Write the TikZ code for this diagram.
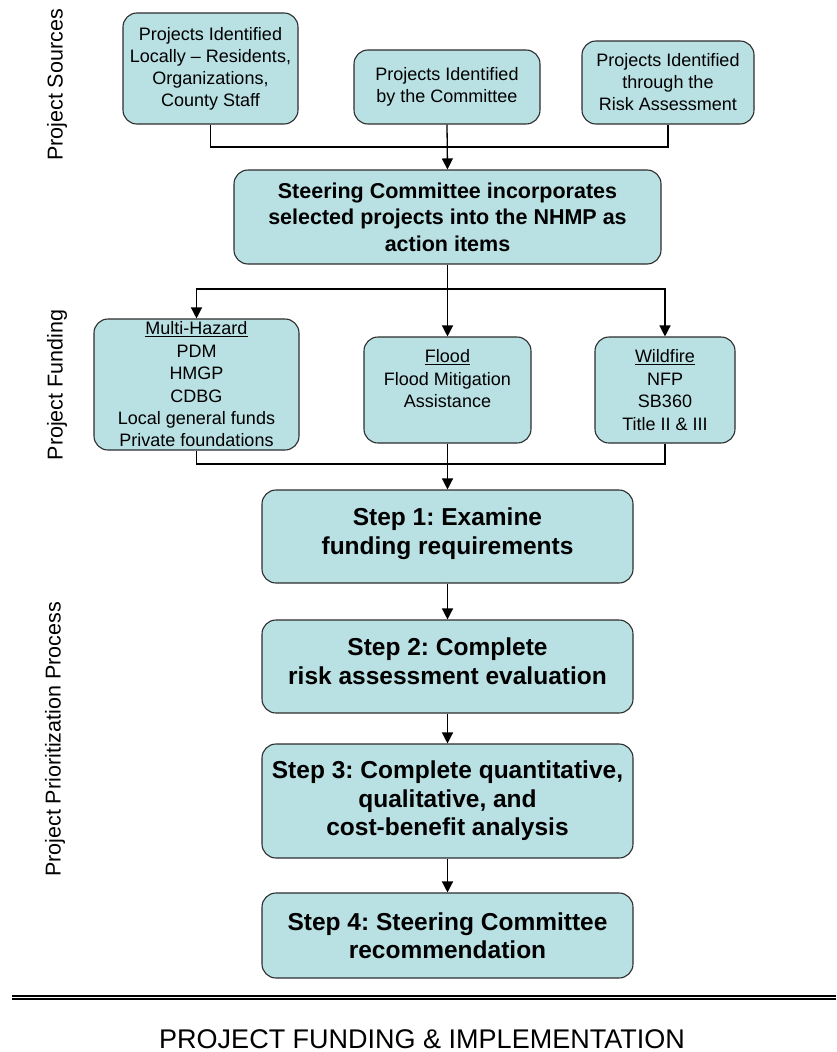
\documentclass[tikz,border=0pt]{standalone}
\usepackage{fontspec}
\setmainfont{Liberation Sans}
\usetikzlibrary{arrows.meta,positioning}
\definecolor{boxfill}{RGB}{185,224,227}
\definecolor{boxline}{RGB}{45,45,45}
\frenchspacing
\tikzset{
  box/.style={draw=boxline, line width=1.1pt, fill=boxfill, rounded corners=14pt, align=center, inner sep=0pt},
  srcbox/.style={box, font=\fontsize{18}{22}\selectfont},
  fundbox/.style={box, font=\fontsize{18}{22.4}\selectfont},
  cmtbox/.style={box, font=\fontsize{21.5}{26.5}\selectfont\bfseries},
  stepbox/.style={box, minimum width=371pt, font=\fontsize{24.5}{28.5}\selectfont\bfseries},
  sidelabel/.style={rotate=90, font=\fontsize{21.5}{26}\selectfont},
  link/.style={line width=1.3pt},
  arr/.style={link, -{Triangle[width=11pt,length=11pt]}},
}

\begin{document}
\begin{tikzpicture}[x=1pt, y=-1pt]
		%%%%% START %%%%%
		\useasboundingbox (0,0) rectangle (836,1052);
		
		% side labels
		\node[sidelabel] (lblSrc) at (57,85) {Project Sources};
		\node[sidelabel] (lblFund) at (57,385) {Project Funding};
		\node[sidelabel] (lblProc) at (55,739.5) {Project Prioritization Process};
		
		% project sources
		\node[srcbox, minimum width=175pt, minimum height=111pt] (srcLocal) at (210.5,68.5) {Projects Identified\\Locally -- Residents,\\Organizations,\\County Staff};
		\node[srcbox, minimum width=186pt, minimum height=74pt] (srcCmte) at (447,87) {Projects Identified\\by the Committee};
		\node[srcbox, minimum width=172pt, minimum height=83pt] (srcRisk) at (668,82.5) {Projects Identified\\through the\\Risk Assessment};
		
		\node[cmtbox, minimum width=427pt, minimum height=94pt] (steer) at (447.5,217) {Steering Committee incorporates\\selected projects into the NHMP as\\action items};
		
		\coordinate (jSrc) at (447,147);
		\draw[link] (srcLocal.south) |- (jSrc) -| (srcRisk.south);
		\draw[arr] (srcCmte.south) -- (steer.north);
		
		% project funding
		\node[fundbox, minimum width=205pt, minimum height=131pt] (multi) at (196.5,384.5) {\underline{Multi-Hazard}\\PDM\\HMGP\\CDBG\\Local general funds\\Private foundations};
		\node[fundbox, minimum width=167pt, minimum height=106pt] (flood) at (447.5,390) {\underline{Flood}\\Flood Mitigation\\Assistance\\\mbox{}};
		\node[fundbox, minimum width=140pt, minimum height=106pt] (wild) at (665,390) {\underline{Wildfire}\\NFP\\SB360\\Title II \& III};
		
		\coordinate (jFund) at (447.5,289);
		\draw[link] (steer.south) -- (jFund);
		\draw[arr] (jFund) -| (multi.north);
		\draw[arr] (jFund) -| (wild.north);
		\draw[arr] (jFund) -- (flood.north);
		
		% prioritization steps
		\node[stepbox, minimum height=93pt] (step1) at (447.5,536.5) {Step 1: Examine\\funding requirements\\[-18pt]\mbox{}};
		\node[stepbox, minimum height=93pt] (step2) at (447.5,666.5) {Step 2: Complete\\risk assessment evaluation\\[-18pt]\mbox{}};
		\node[stepbox, minimum height=114pt] (step3) at (447.5,801) {Step 3: Complete quantitative,\\qualitative, and\\cost-benefit analysis};
		\node[stepbox, minimum height=85pt] (step4) at (447.5,935.5) {Step 4: Steering Committee\\recommendation};
		
		\coordinate (jStep) at (447.5,464);
		\draw[link] (multi.south) |- (jStep) -| (wild.south);
		\draw[arr] (flood.south) -- (step1.north);
		\draw[arr] (step1) -- (step2);
		\draw[arr] (step2) -- (step3);
		\draw[arr] (step3) -- (step4);
		
		% footer
		\draw[line width=1.6pt] (12,995.8) -- (836,995.8);
		\draw[line width=1.6pt] (12,999.2) -- (836,999.2);
		\node[font=\fontsize{27}{32}\selectfont, inner sep=0pt] (footer) at (422,1039) {PROJECT FUNDING \& IMPLEMENTATION};
		
		%%%%% END %%%%%
	\end{tikzpicture}
\end{document}
